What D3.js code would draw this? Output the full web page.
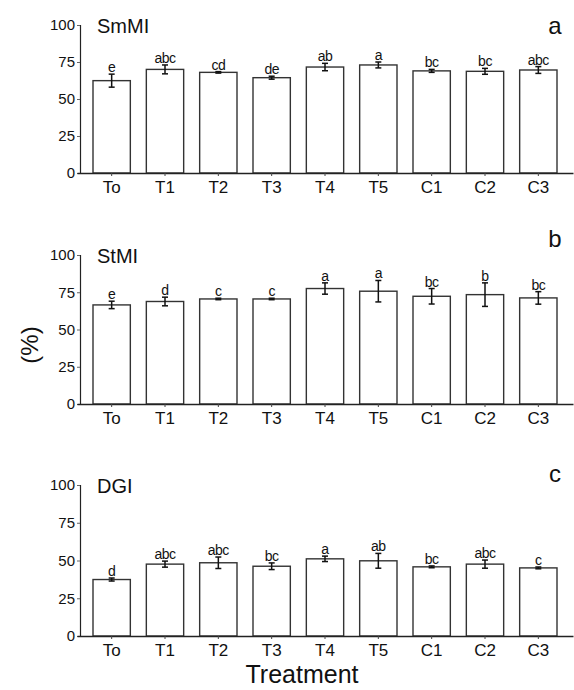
<!DOCTYPE html>
<html>
<head>
<meta charset="utf-8">
<script src="https://cdn.jsdelivr.net/npm/d3@7"></script>
<style>
  body { margin: 0; background: #fff; }
  svg { display: block; font-family: "Liberation Sans", Arial, sans-serif; }
</style>
</head>
<body>
<div id="chart"></div>
<script>
// treatments on the x axis
const categories = ["To", "T1", "T2", "T3", "T4", "T5", "C1", "C2", "C3"];
const yTicks = [0, 25, 50, 75, 100];

// panel a: SmMI
const smmiValues = [62.4, 70, 68, 64.4, 71.6, 73, 69, 68.7, 69.6];
const smmiErrors = [4.4, 3, 0.5, 1, 2.5, 2, 1, 2, 2.3];
const smmiLetters = ["e", "abc", "cd", "de", "ab", "a", "bc", "bc", "abc"];

// panel b: StMI
const stmiValues = [66.5, 68.8, 70.5, 70.5, 77.5, 75.7, 72.3, 73.4, 71.2];
const stmiErrors = [2.5, 2.9, 0.5, 0.5, 3.8, 7.2, 5.2, 7.9, 4.2];
const stmiLetters = ["e", "d", "c", "c", "a", "a", "bc", "b", "bc"];

// panel c: DGI
const dgiValues = [37.4, 47.6, 48.5, 46.2, 51.1, 49.8, 45.8, 47.6, 45.1];
const dgiErrors = [1, 2, 3.8, 2.2, 1.8, 4.9, 0.6, 2.7, 0.6];
const dgiLetters = ["d", "abc", "abc", "bc", "a", "ab", "bc", "abc", "c"];

const width = 574, height = 690;
const axisX = 80;

const panels = [
  { title: "SmMI", tag: "a", values: smmiValues, errors: smmiErrors, letters: smmiLetters, top: 25, bottom: 173, tagDy: 9 },
  { title: "StMI", tag: "b", values: stmiValues, errors: stmiErrors, letters: stmiLetters, top: 255, bottom: 404, tagDy: -8 },
  { title: "DGI", tag: "c", values: dgiValues, errors: dgiErrors, letters: dgiLetters, top: 485, bottom: 636, tagDy: -3 }
];

const svg = d3.select("#chart")
  .append("svg")
  .attr("width", width)
  .attr("height", height);

const x = d3.scaleBand()
  .domain(categories)
  .range([77, 573])
  .paddingInner(0.3)
  .paddingOuter(0.3);

panels.forEach(p => {
  const y = d3.scaleLinear().domain([0, 100]).range([p.bottom, p.top]);
  const g = svg.append("g");

  // y axis
  const yAxis = g.append("g")
    .attr("transform", `translate(${axisX},0)`)
    .call(d3.axisLeft(y).tickValues(yTicks).tickSize(3).tickPadding(2));
  yAxis.select(".domain").attr("stroke", "#222").attr("stroke-width", 1.2);
  yAxis.selectAll(".tick line").attr("stroke", "#666");
  yAxis.selectAll("text")
    .attr("font-size", 15)
    .attr("fill", "#111")
    .attr("font-family", "Liberation Sans, Arial, sans-serif");

  // bars
  g.selectAll(".bar")
    .data(p.values)
    .enter().append("rect")
    .attr("class", "bar")
    .attr("x", (d, i) => x(categories[i]))
    .attr("y", d => y(d))
    .attr("width", x.bandwidth())
    .attr("height", d => y(0) - y(d))
    .attr("fill", "#fff")
    .attr("stroke", "#333")
    .attr("stroke-width", 1.4);

  // error bars
  const err = g.selectAll(".err")
    .data(p.values)
    .enter().append("g")
    .attr("class", "err")
    .attr("stroke", "#111")
    .attr("stroke-width", 1.5);
  err.append("line")
    .attr("x1", (d, i) => x(categories[i]) + x.bandwidth() / 2)
    .attr("x2", (d, i) => x(categories[i]) + x.bandwidth() / 2)
    .attr("y1", (d, i) => y(d - p.errors[i]))
    .attr("y2", (d, i) => y(d + p.errors[i]));
  [-1, 1].forEach(s => {
    err.append("line")
      .attr("x1", (d, i) => x(categories[i]) + x.bandwidth() / 2 - 3)
      .attr("x2", (d, i) => x(categories[i]) + x.bandwidth() / 2 + 3)
      .attr("y1", (d, i) => y(d + s * p.errors[i]))
      .attr("y2", (d, i) => y(d + s * p.errors[i]));
  });

  // significance letters
  g.selectAll(".letter")
    .data(p.values)
    .enter().append("text")
    .attr("class", "letter")
    .attr("x", (d, i) => x(categories[i]) + x.bandwidth() / 2)
    .attr("y", (d, i) => y(d + p.errors[i]) - 2)
    .attr("text-anchor", "middle")
    .attr("font-size", 14)
    .attr("letter-spacing", -0.5)
    .attr("fill", "#111")
    .text((d, i) => p.letters[i]);

  // x axis
  const xAxis = g.append("g")
    .attr("transform", `translate(0,${p.bottom})`)
    .call(d3.axisBottom(x).tickSize(3).tickPadding(5).tickSizeOuter(0));
  xAxis.select(".domain").attr("stroke", "#222").attr("stroke-width", 1.4);
  xAxis.selectAll(".tick line").attr("stroke", "#444");
  xAxis.selectAll("text")
    .attr("font-size", 17)
    .attr("fill", "#111")
    .attr("font-family", "Liberation Sans, Arial, sans-serif");

  // panel title and tag
  g.append("text")
    .attr("x", 97)
    .attr("y", p.top + 8)
    .attr("font-size", 20)
    .attr("fill", "#111")
    .text(p.title);
  g.append("text")
    .attr("x", 555)
    .attr("y", p.top + p.tagDy)
    .attr("text-anchor", "middle")
    .attr("font-size", 24)
    .attr("fill", "#111")
    .text(p.tag);
});

// shared axis titles
svg.append("text")
  .attr("transform", "translate(38,345) rotate(-90)")
  .attr("text-anchor", "middle")
  .attr("font-size", 24)
  .attr("fill", "#111")
  .text("(%)");

svg.append("text")
  .attr("x", 302)
  .attr("y", 683)
  .attr("text-anchor", "middle")
  .attr("font-size", 25)
  .attr("fill", "#111")
  .text("Treatment");
</script>
</body>
</html>
